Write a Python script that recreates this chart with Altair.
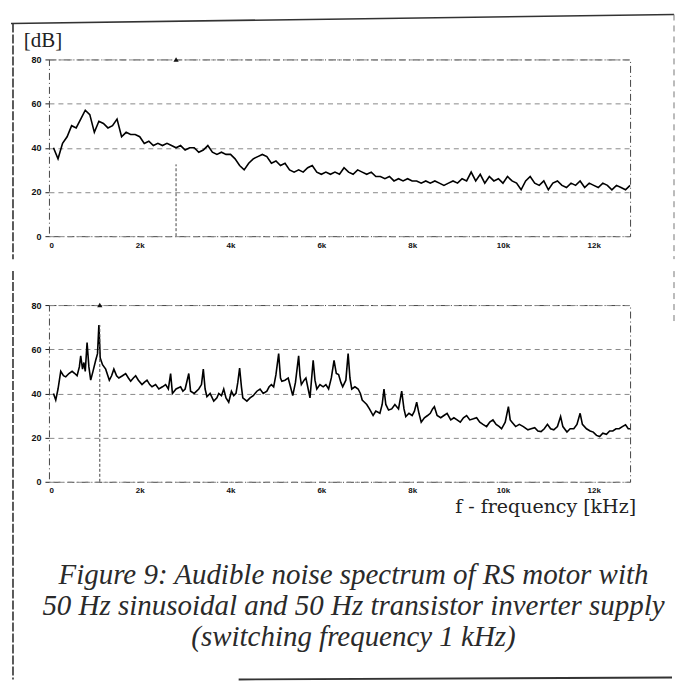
import altair as alt
import pandas as pd

# ---------------- data ----------------
freq_top = [0.1, 0.2, 0.3, 0.4, 0.5, 0.6, 0.7, 0.8, 0.9, 1.0,
            1.1, 1.2, 1.3, 1.4, 1.5, 1.6, 1.7, 1.8, 1.9, 2.0,
            2.1, 2.2, 2.3, 2.4, 2.5, 2.6, 2.7, 2.8, 2.9, 3.0,
            3.1, 3.2, 3.3, 3.4, 3.5, 3.6, 3.7, 3.8, 3.9, 4.0,
            4.1, 4.2, 4.3, 4.4, 4.5, 4.6, 4.7, 4.8, 4.9, 5.0,
            5.1, 5.2, 5.3, 5.4, 5.5, 5.6, 5.7, 5.8, 5.9, 6.0,
            6.1, 6.2, 6.3, 6.4, 6.5, 6.6, 6.7, 6.8, 6.9, 7.0,
            7.1, 7.2, 7.3, 7.4, 7.5, 7.6, 7.7, 7.8, 7.9, 8.0,
            8.1, 8.2, 8.3, 8.4, 8.5, 8.6, 8.7, 8.8, 8.9, 9.0,
            9.1, 9.2, 9.3, 9.4, 9.5, 9.6, 9.7, 9.8, 9.9, 10.0,
            10.1, 10.2, 10.3, 10.4, 10.5, 10.6, 10.7, 10.8, 10.9, 11.0,
            11.1, 11.2, 11.3, 11.4, 11.5, 11.6, 11.7, 11.8, 11.9, 12.0,
            12.1, 12.2, 12.3, 12.4, 12.5, 12.6, 12.7, 12.8]
db_top = [40, 35, 42, 45, 50, 49, 53, 57, 55, 47,
          52, 51, 49, 50, 53, 45, 47, 46, 46, 45,
          42, 43, 41, 42, 41, 42, 41, 40, 41, 39,
          40, 40, 38, 39, 41, 38, 37, 38, 37, 37,
          35, 32, 30, 33, 35, 36, 37, 36, 33, 34,
          32, 33, 30, 29, 30, 29, 31, 32, 29, 28,
          29, 28, 29, 28, 31, 29, 28, 30, 29, 28,
          29, 27, 27, 26, 27, 25, 26, 25, 26, 25,
          25, 24, 25, 24, 25, 24, 23, 24, 25, 24,
          26, 25, 29, 25, 28, 24, 27, 25, 26, 24,
          27, 25, 24, 21, 25, 27, 24, 23, 25, 21,
          24, 25, 23, 22, 24, 23, 25, 22, 24, 23,
          22, 24, 23, 21, 23, 22, 21, 23]

freq_bot = [0.10, 0.15, 0.20, 0.26, 0.32, 0.37, 0.44, 0.51, 0.57, 0.62,
            0.67, 0.70, 0.74, 0.77, 0.80, 0.84, 0.88, 0.92, 0.97, 1.03,
            1.07, 1.10, 1.13, 1.18, 1.25, 1.33, 1.38, 1.43, 1.49, 1.54,
            1.62, 1.69, 1.75, 1.80, 1.86, 1.91, 1.97, 2.05, 2.10, 2.16,
            2.22, 2.27, 2.35, 2.42, 2.50, 2.57, 2.63, 2.68, 2.72, 2.80,
            2.90, 2.95, 3.00, 3.08, 3.12, 3.20, 3.30, 3.36, 3.40, 3.44,
            3.48, 3.55, 3.63, 3.70, 3.74, 3.80, 3.85, 3.90, 3.96, 4.02,
            4.07, 4.12, 4.16, 4.20, 4.24, 4.27, 4.36, 4.43, 4.50, 4.58,
            4.65, 4.72, 4.80, 4.85, 4.90, 4.95, 5.00, 5.06, 5.10, 5.13,
            5.20, 5.27, 5.32, 5.37, 5.43, 5.50, 5.53, 5.56, 5.62, 5.66,
            5.71, 5.75, 5.82, 5.86, 5.90, 5.97, 6.04, 6.10, 6.16, 6.22,
            6.28, 6.33, 6.38, 6.43, 6.47, 6.54, 6.59, 6.63, 6.67, 6.74,
            6.81, 6.86, 6.90, 6.95, 7.00, 7.06, 7.14, 7.20, 7.29, 7.34,
            7.38, 7.42, 7.48, 7.55, 7.62, 7.70, 7.77, 7.82, 7.86, 7.93,
            8.00, 8.05, 8.10, 8.15, 8.20, 8.27, 8.34, 8.40, 8.45, 8.49,
            8.55, 8.63, 8.70, 8.77, 8.85, 8.92, 8.99, 9.06, 9.13, 9.20,
            9.27, 9.35, 9.42, 9.49, 9.56, 9.64, 9.71, 9.78, 9.85, 9.92,
            9.97, 10.05, 10.12, 10.16, 10.20, 10.28, 10.36, 10.45, 10.55, 10.62,
            10.70, 10.77, 10.84, 10.91, 10.98, 11.05, 11.12, 11.20, 11.27, 11.32,
            11.41, 11.48, 11.56, 11.63, 11.70, 11.75, 11.84, 11.92, 11.99, 12.06,
            12.13, 12.20, 12.28, 12.35, 12.42, 12.49, 12.56, 12.63, 12.70, 12.76,
            12.80]
db_bot = [40, 37, 42, 50, 48, 47.5, 49, 50, 49, 48,
          52, 57, 51, 54, 50, 63, 52, 46, 50, 55,
          58, 71, 56, 53, 51, 46, 48, 51, 48, 47,
          48, 49, 47, 45.5, 47, 48, 46, 44, 45, 46,
          44, 43, 44, 42, 43, 44, 42, 49, 40, 42,
          43, 41, 42, 49, 41, 40, 42, 44, 51, 42,
          38.5, 40, 36.5, 38, 40, 39, 42, 38, 36, 41,
          39, 40, 45, 51.5, 43, 38, 36.5, 38, 39, 41,
          42, 40, 41, 43, 44, 43, 48.5, 58, 47, 45.5,
          46, 47, 43, 39, 45, 57, 48, 44, 46, 47,
          42, 38, 55, 46, 42, 44, 43, 44, 42, 47,
          55, 49, 48.5, 45, 43, 46, 58, 47, 42, 43,
          42, 40, 37, 36, 35, 33, 30, 32, 31, 35,
          42, 35, 32.5, 33, 35, 33, 41, 33, 29.5, 31,
          30, 32, 36, 31, 27, 29, 30, 31, 33, 34,
          30, 29, 30, 31, 28, 29, 28, 27, 29, 30,
          28, 28.5, 29, 27, 26, 25, 27, 28, 26, 25,
          24, 27, 34, 28, 27, 25, 26, 25, 23.5, 24,
          24.5, 23, 22.7, 24, 26, 24, 23.5, 25, 29.5, 25,
          22.5, 24, 24, 26, 31, 26, 24, 23, 22.5, 21,
          20.5, 22, 21.5, 23, 23, 24, 24, 25, 25.8, 24,
          24]

# cursor markers (frequency in kHz, level in dB)
cursor_top = {"f": [2.8], "level": [32.5], "base": [0], "top": [80]}
cursor_bot = {"f": [1.12], "level": [71], "base": [0], "top": [80]}

x_ticks = [0, 2, 4, 6, 8, 10, 12]
y_ticks = [0, 20, 40, 60, 80]
y_title = ["[dB]"]
x_title = ["f - frequency [kHz]"]
caption_lines = ["Figure 9: Audible noise spectrum of RS motor with",
                 "50 Hz sinusoidal and 50 Hz transistor inverter supply",
                 "(switching frequency 1 kHz)"]

assert len(freq_top) == len(db_top)
assert len(freq_bot) == len(db_bot)

W, H = 582, 177
SERIF = "Liberation Serif"
SANS = "Liberation Sans"

x_scale = alt.Scale(domain=[0, 12.8], nice=False, zero=False)
y_scale = alt.Scale(domain=[0, 80], nice=False)

x_axis = alt.Axis(values=x_ticks, title=None, grid=False, domain=False,
                  ticks=False, labelPadding=5,
                  labelExpr="datum.value == 0 ? '0' : datum.value + 'k'",
                  labelFont=SANS, labelFontWeight="bold", labelFontSize=8,
                  labelColor="#111")
y_axis = alt.Axis(values=y_ticks, title=None, grid=True, gridColor="#8a8a8a",
                  gridDash=[5, 4], gridWidth=1, domain=False, tickSize=4,
                  tickColor="#222", labelPadding=4, labelFont=SANS,
                  labelFontWeight="bold", labelFontSize=9, labelColor="#111")

one = pd.DataFrame({"k": [0]})


def panel(freq, db, cursor, extra_layers):
    df = pd.DataFrame({"f": freq, "db": db})
    cur = pd.DataFrame(cursor)
    line = alt.Chart(df).mark_line(color="black", strokeWidth=1.6).encode(
        x=alt.X("f:Q", scale=x_scale, axis=x_axis),
        y=alt.Y("db:Q", scale=y_scale, axis=y_axis),
    )
    rule = alt.Chart(cur).mark_rule(color="#444", strokeDash=[3, 2],
                                    strokeWidth=1).encode(
        x=alt.X("f:Q", scale=x_scale), y=alt.Y("base:Q", scale=y_scale),
        y2="level:Q")
    tri = alt.Chart(cur).mark_point(shape="triangle-up", filled=True,
                                    size=28, color="#111", opacity=1).encode(
        x=alt.X("f:Q", scale=x_scale), y=alt.Y("top:Q", scale=y_scale))
    return alt.layer(line, rule, tri, *extra_layers).properties(width=W, height=H)


border_col = "#333"

top_extra = [
    alt.Chart(pd.DataFrame({"t": y_title})).mark_text(
        font=SERIF, fontSize=21, color="#222", align="center",
        baseline="middle").encode(text="t:N", x=alt.value(-6), y=alt.value(-18)),
    alt.Chart(one).mark_rule(color=border_col, strokeWidth=1.6,
                             strokeDash=[9, 2]).encode(
        x=alt.value(-36), y=alt.value(-36), y2=alt.value(200)),
    alt.Chart(one).mark_rule(color=border_col, strokeWidth=1.6).encode(
        x=alt.value(-38), x2=alt.value(626), y=alt.value(-36), y2=alt.value(-45)),
    alt.Chart(one).mark_rule(color="#777", strokeWidth=1,
                             strokeDash=[6, 5]).encode(
        x=alt.value(626), y=alt.value(-45), y2=alt.value(200)),
]

bot_extra = [
    alt.Chart(pd.DataFrame({"t": x_title})).mark_text(
        font="DejaVu Serif", fontSize=19, color="#222", align="right",
        baseline="alphabetic").encode(text="t:N", x=alt.value(588), y=alt.value(208)),
    alt.Chart(one).mark_text(
        text=caption_lines, font=SERIF, fontStyle="italic", fontSize=29,
        lineHeight=31, color="#2a2a2a", align="center",
        baseline="alphabetic").encode(x=alt.value(305), y=alt.value(279)),
    alt.Chart(one).mark_rule(color=border_col, strokeWidth=1.6,
                             strokeDash=[9, 2]).encode(
        x=alt.value(-36), y=alt.value(-34), y2=alt.value(375)),
    alt.Chart(one).mark_rule(color=border_col, strokeWidth=1.8).encode(
        x=alt.value(190), x2=alt.value(624), y=alt.value(375), y2=alt.value(373)),
    alt.Chart(one).mark_rule(color="#777", strokeWidth=1,
                             strokeDash=[6, 5]).encode(
        x=alt.value(626), y=alt.value(-34), y2=alt.value(20)),
]

top = panel(freq_top, db_top, cursor_top, top_extra)
bot = panel(freq_bot, db_bot, cursor_bot, bot_extra)

chart = alt.vconcat(top, bot, spacing=8).properties(
    padding={"left": 1, "top": 4, "right": 0, "bottom": 0},
    background="white",
).configure_view(stroke="#444", strokeDash=[7, 3, 1, 3], strokeWidth=1)

chart.save("out.html", embed_options={"renderer": "svg", "actions": False})
